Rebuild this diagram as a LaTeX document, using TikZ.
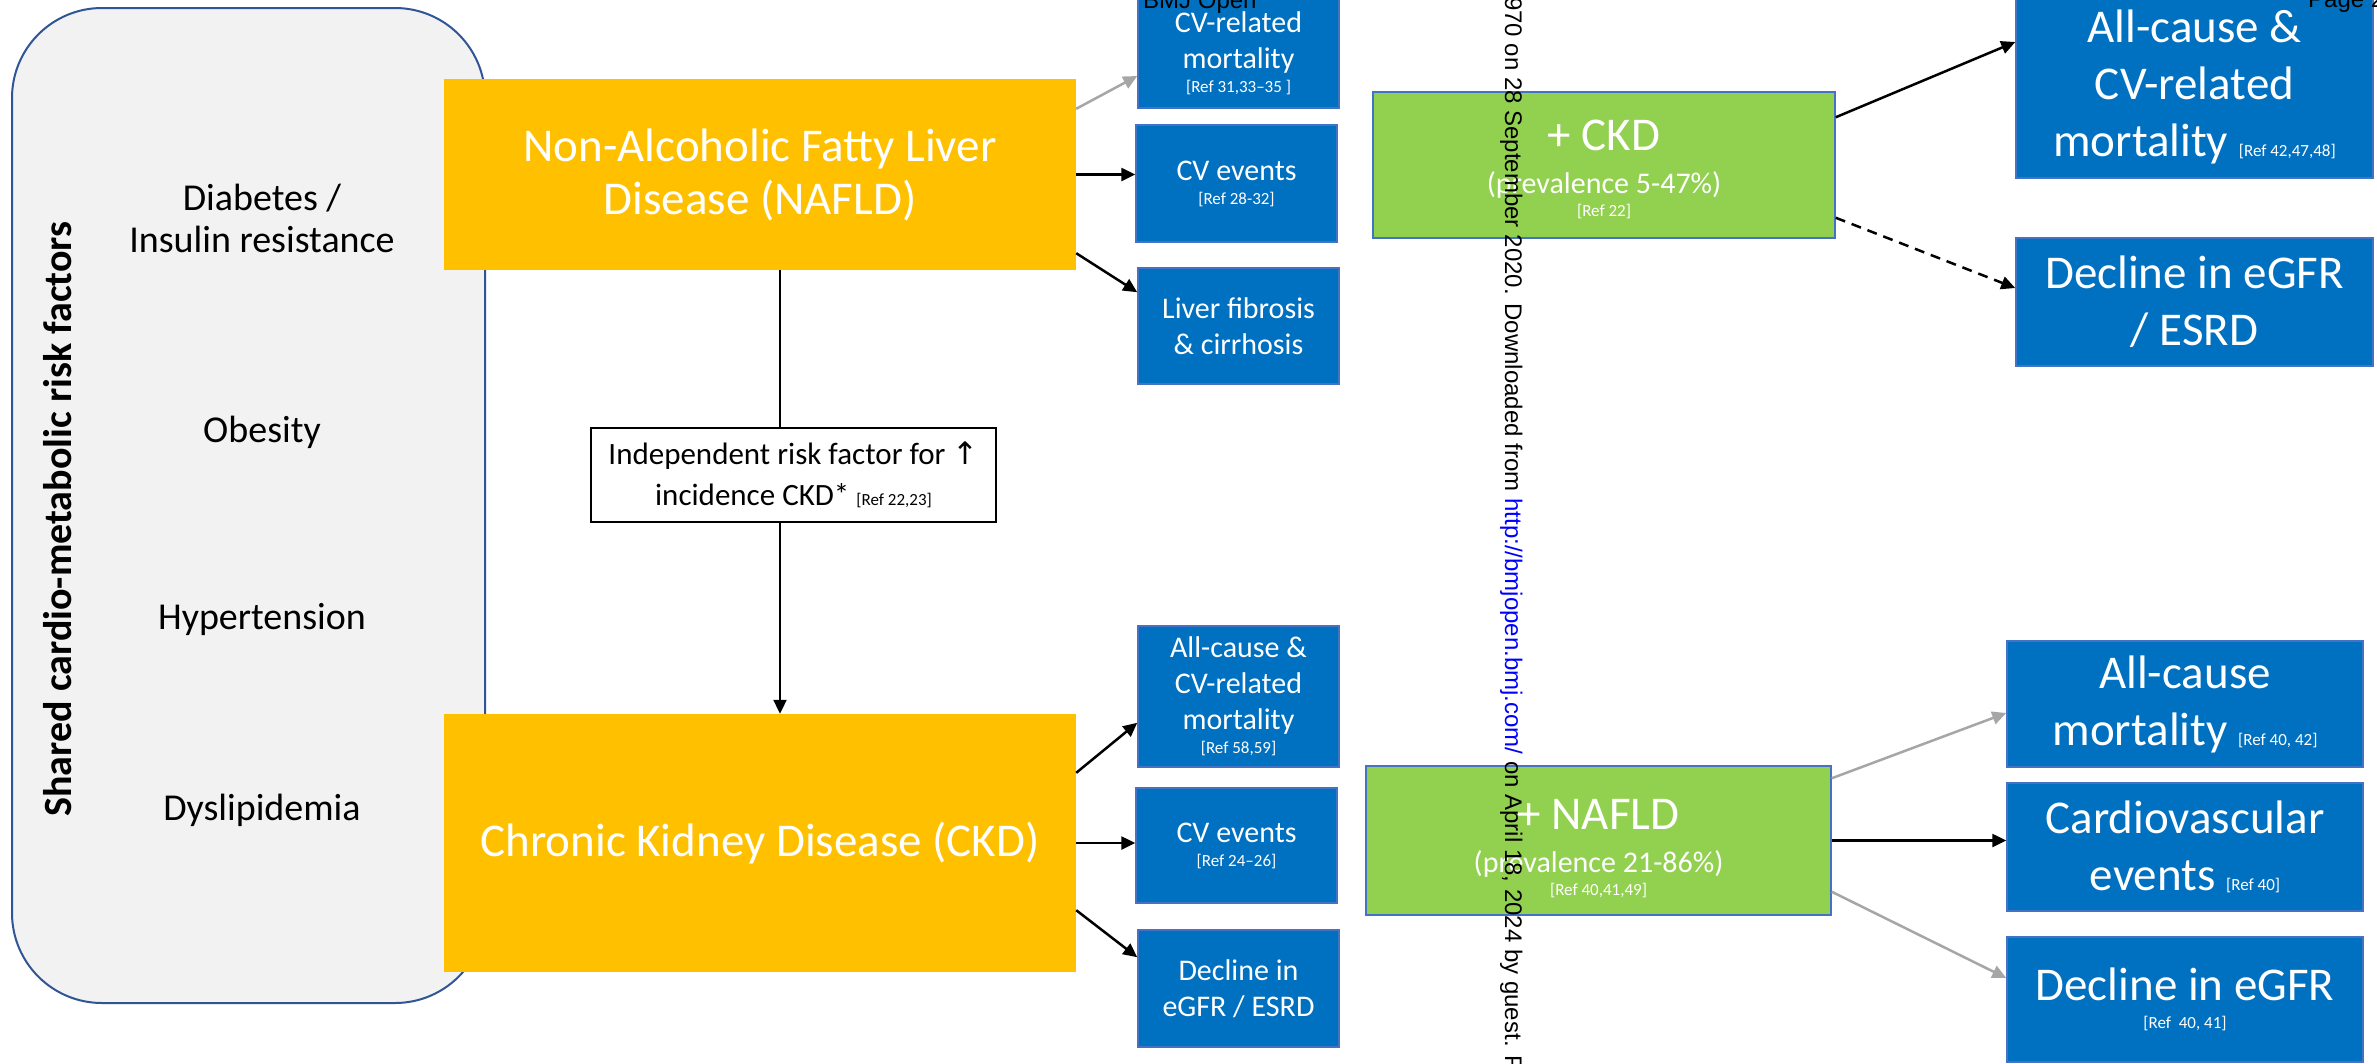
\documentclass[tikz,border=0pt]{standalone}
\usepackage{fontspec}
\setmainfont{Carlito}
\newfontfamily\wmfont{Liberation Sans}
\newfontfamily\arrowglyph{DejaVu Sans}
\usepackage{tikz}
\usetikzlibrary{arrows.meta}
\definecolor{orangefill}{HTML}{FFC000}
\definecolor{bluefill}{HTML}{0070C0}
\definecolor{blueline}{HTML}{4472C4}
\definecolor{greenfill}{HTML}{92D050}
\definecolor{panelfill}{HTML}{F2F2F2}
\definecolor{panelline}{HTML}{2F5597}
\definecolor{arrowgray}{HTML}{A6A6A6}
\newcommand{\refnote}[1]{{\fontsize{17}{20}\selectfont #1}}

\begin{document}
\begin{tikzpicture}[x=1pt,y=-1pt,
  panel/.style={draw=panelline,line width=2pt,fill=panelfill,rounded corners=90pt},
  riskfactor/.style={align=center,font=\fontsize{38}{42}\selectfont},
  disease/.style={fill=orangefill,text=white,align=center,inner sep=0pt,minimum width=632pt,font=\fontsize{47}{53}\selectfont},
  outcome/.style={fill=bluefill,draw=blueline,line width=1.5pt,text=white,align=center,inner sep=0pt},
  smallout/.style={outcome,minimum width=201pt,font=\fontsize{30}{36}\selectfont},
  bigout/.style={outcome,font=\fontsize{47}{57}\selectfont},
  combo/.style={fill=greenfill,draw=blueline,line width=1.5pt,text=white,align=center,inner sep=0pt,font=\fontsize{30}{35}\selectfont},
  arrowline/.style={line width=2.5pt,-{Triangle[length=14pt,width=13pt]}},
  faint/.style={arrowline,draw=arrowgray,fill=arrowgray},
  watermark/.style={font=\wmfont\fontsize{24}{28}\selectfont,inner sep=0pt}]
\useasboundingbox (0,0) rectangle (2377,1063);
\clip (0,0) rectangle (2377,1063);
\fill[white] (0,0) rectangle (2377,1063);

\node[panel,minimum width=473pt,minimum height=995pt] (panel) at (248.5,505.5) {};
\node[rotate=90,font=\fontsize{40}{44}\selectfont\bfseries] (shared) at (58,519) {Shared cardio-metabolic risk factors};
\node[riskfactor] (diabetes) at (262,218) {Diabetes /\\ Insulin resistance};
\node[riskfactor] (obesity) at (262,432) {Obesity};
\node[riskfactor] (hypertension) at (262,619) {Hypertension};
\node[riskfactor] (dyslipidemia) at (262,810) {Dyslipidemia};

\node[disease,minimum height=191pt] (nafld) at (760,174.5) {Non-Alcoholic Fatty Liver\\ Disease (NAFLD)};
\node[disease,minimum height=258pt] (ckd) at (760,843) {Chronic Kidney Disease (CKD)};
\node[draw,line width=2pt,fill=white,align=center,inner sep=0pt,minimum width=405pt,minimum height=94pt,font=\fontsize{31}{41}\selectfont] (indep) at (793.5,475) {Independent risk factor for {\arrowglyph ↑}\\ incidence CKD* \refnote{[Ref 22,23]}};

\node[smallout,minimum height=110pt] (nafldmort) at (1238.5,53) {CV-related\\ mortality\\[-12pt] \refnote{[Ref 31,33–35 ]}};
\node[smallout,minimum height=117pt] (nafldcv) at (1236.5,183.5) {CV events\\[-12pt] \refnote{[Ref 28-32]}};
\node[smallout,minimum height=116pt] (fibrosis) at (1238.5,326) {Liver fibrosis\\ \& cirrhosis};
\node[smallout,minimum height=141pt] (ckdmort) at (1238.5,696.5) {All-cause \&\\ CV-related\\ mortality\\[-12pt] \refnote{[Ref 58,59]}};
\node[smallout,minimum height=115pt] (ckdcv) at (1236.5,845.5) {CV events\\[-12pt] \refnote{[Ref 24–26]}};
\node[smallout,minimum height=117pt] (ckdgfr) at (1238.5,988.5) {Decline in\\ eGFR / ESRD};

\node[combo,minimum width=462pt,minimum height=146pt] (withckd) at (1604,165) {{\fontsize{47}{53}\selectfont\rule{0pt}{40pt}+ CKD}\\[8pt] (prevalence 5-47\%)\\[-12pt] \refnote{[Ref 22]}};
\node[combo,minimum width=465pt,minimum height=149pt] (withnafld) at (1598.5,840.5) {{\fontsize{47}{53}\selectfont\rule{0pt}{46pt}+ NAFLD}\\[8pt] (prevalence 21-86\%)\\[-12pt] \refnote{[Ref 40,41,49]}};

\node[bigout,minimum width=357pt,minimum height=182pt] (bothmort) at (2194.5,87) {All-cause \&\\ CV-related\\ mortality \refnote{[Ref 42,47,48]}};
\node[bigout,minimum width=357pt,minimum height=128pt] (bothgfr) at (2194.5,302) {Decline in eGFR\\ / ESRD};
\node[bigout,minimum width=356pt,minimum height=126pt] (nmort) at (2185,704) {All-cause\\ mortality \refnote{[Ref 40, 42]}};
\node[bigout,minimum width=356pt,minimum height=128pt] (ncv) at (2185,847) {Cardiovascular\\ events \refnote{[Ref 40]}};
\node[bigout,minimum width=356pt,minimum height=125pt] (ngfr) at (2185,999.5) {Decline in eGFR\\[-29pt] \refnote{[Ref\ \ 40, 41]}};

\coordinate (spine) at (780,0);
\draw[line width=2pt] (nafld.south -| spine) -- (indep.north -| spine);
\draw[arrowline,line width=2pt] (indep.south -| spine) -- (ckd.north -| spine);

\draw[faint] ([yshift=-30pt]nafld.north east) -- ([yshift=-23pt]nafldmort.west);
\draw[arrowline] (nafld.east) -- (nafld.east -| nafldcv.west);
\draw[arrowline] ([yshift=17pt]nafld.south east) -- ([yshift=-25pt]fibrosis.north west);
\draw[arrowline] ([yshift=-59pt]ckd.north east) -- ([yshift=45pt]ckdmort.south west);
\draw[arrowline] (ckd.east) -- (ckd.east -| ckdcv.west);
\draw[arrowline] ([yshift=62pt]ckd.south east) -- ([yshift=-28pt]ckdgfr.north west);

\draw[arrowline] ([yshift=-26pt]withckd.north east) -- ([yshift=45pt]bothmort.west);
\draw[arrowline,dash pattern=on 10pt off 7pt] ([yshift=21pt]withckd.south east) -- ([yshift=14pt]bothgfr.west);
\draw[faint] ([yshift=-13pt]withnafld.north east) -- ([yshift=-9pt]nmort.west);
\draw[arrowline] (withnafld.east) -- (withnafld.east -| ncv.west);
\draw[faint] ([yshift=24pt]withnafld.south east) -- ([yshift=21.5pt]ngfr.west);

\node[watermark,anchor=base west] (journal) at (1143,8) {BMJ Open};
\node[watermark,anchor=base west] (page) at (2308,7) {Page 2};
\node[watermark,anchor=base west,rotate=-90] (download) at (1505,-3) {970 on 28 September 2020. Downloaded from \textcolor{blue}{http://bmjopen.bmj.com/} on April 18, 2024 by guest. P};
\end{tikzpicture}
\end{document}
